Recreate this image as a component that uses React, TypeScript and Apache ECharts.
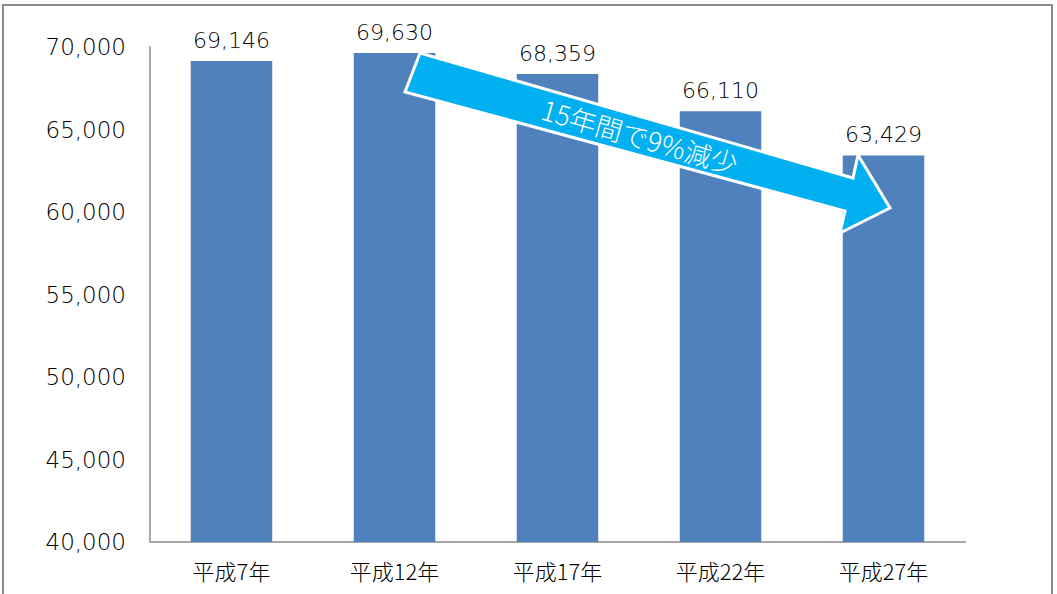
import React, { useEffect, useRef } from "react";
import * as echarts from "echarts";

const categories = ["平成7年", "平成12年", "平成17年", "平成22年", "平成27年"];
const values = [69146, 69630, 68359, 66110, 63429];
const yTicks = { min: 40000, max: 70000, interval: 5000 };
const arrowText = "15年間で9%減少";

export default function App() {
  const ref = useRef<HTMLDivElement>(null);
  useEffect(() => {
    document.body.style.margin = "0";
    const chart = echarts.init(ref.current!, null, { renderer: "svg" });
    const font = "'Noto Sans CJK JP', 'Liberation Sans', sans-serif";
    const numFont = "'DejaVu Sans', sans-serif";
    chart.setOption({
      animation: false,
      backgroundColor: "#fff",
      grid: { left: 150, right: 92, top: 47, bottom: 52 },
      xAxis: {
        type: "category",
        data: categories,
        axisLine: { lineStyle: { color: "#a6a6a6", width: 2 } },
        axisTick: { show: false },
        axisLabel: { color: "#000", fontSize: 22, margin: 17, fontFamily: font, fontWeight: 300 },
      },
      yAxis: {
        type: "value",
        min: yTicks.min,
        max: yTicks.max,
        interval: yTicks.interval,
        splitLine: { show: false },
        axisLine: { show: true, lineStyle: { color: "#a6a6a6", width: 2 } },
        axisTick: { show: false },
        axisLabel: {
          color: "#000",
          fontSize: 23,
          margin: 24,
          fontFamily: numFont,
          fontWeight: 200,
          formatter: (v: number) => v.toLocaleString("en-US"),
        },
      },
      series: [
        {
          type: "bar",
          data: values,
          barWidth: "50%",
          itemStyle: { color: "#4F81BD" },
          label: {
            show: true,
            position: "top",
            distance: 10,
            color: "#000",
            fontSize: 22,
            fontFamily: numFont,
            fontWeight: 200,
            formatter: (p: any) => Number(p.value).toLocaleString("en-US"),
          },
        },
      ],
      graphic: [
        {
          type: "rect",
          shape: { x: 3, y: 5, width: 1049, height: 600 },
          style: { fill: "none", stroke: "#8c8c8c", lineWidth: 2 },
          silent: true,
        },
        {
          type: "polygon",
          shape: {
            points: [
              [420, 53],
              [853, 178],
              [858, 155],
              [890, 208],
              [840, 233],
              [845, 211],
              [405, 92],
            ],
          },
          style: { fill: "#00B0F0", stroke: "#fff", lineWidth: 3 },
          z: 100,
        },
        {
          type: "text",
          x: 640,
          y: 136,
          rotation: -0.281,
          z: 101,
          style: {
            text: arrowText,
            fill: "#fff",
            fontSize: 27,
            fontFamily: font,
            fontWeight: 300,
            align: "center",
            verticalAlign: "middle",
          },
        },
      ],
    });
    return () => chart.dispose();
  }, []);
  return <div ref={ref} style={{ width: 1057, height: 594 }} />;
}
